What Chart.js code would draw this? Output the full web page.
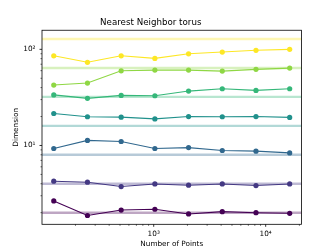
<!DOCTYPE html>
<html>
<head>
<meta charset="utf-8">
<script src="https://cdn.jsdelivr.net/npm/chart.js@4.4.1/dist/chart.umd.min.js"></script>
<style>
  html, body { margin: 0; padding: 0; background: #fff; }
  #grafico { display: block; }
</style>
</head>
<body>
<canvas id="grafico" width="335" height="252"></canvas>
<script>
// Dados (eixos log-log)
const pontos = [128, 256, 512, 1024, 2048, 4096, 8192, 16384];
const dimensoes = [2, 4, 8, 16, 32, 64, 128];
const cores = ['#440154', '#443983', '#31688e', '#21918c', '#35b779', '#8fd744', '#fde725'];

const dim2   = [2.65, 1.87, 2.13, 2.17, 1.94, 2.05, 2.00, 1.97];
const dim4   = [4.25, 4.15, 3.74, 3.98, 3.86, 3.98, 3.83, 3.98];
const dim8   = [9.3, 11.3, 11.0, 9.3, 9.5, 8.87, 8.73, 8.37];
const dim16  = [21.5, 19.9, 19.7, 18.9, 20.0, 19.9, 20.0, 19.6];
const dim32  = [33.6, 30.9, 33.2, 32.9, 36.8, 38.9, 37.4, 38.9];
const dim64  = [42.5, 44.6, 59.8, 60.8, 60.8, 59.4, 61.9, 63.8];
const dim128 = [85.7, 73.3, 85.7, 80.5, 89.9, 93.7, 97.7, 100];
const estimativas = [dim2, dim4, dim8, dim16, dim32, dim64, dim128];

// Marcas dos eixos
const xMaiores = [1000, 10000];
const xMenores = [200, 300, 400, 500, 600, 700, 800, 900, 2000, 3000, 4000, 5000, 6000, 7000, 8000, 9000, 20000];
const yMaiores = [10, 100];
const yMenores = [2, 3, 4, 5, 6, 7, 8, 9, 20, 30, 40, 50, 60, 70, 80, 90];

const xMin = 100.5, xMax = 20890;
const yMin = 1.514, yMax = 158;

const sobrescrito = { '0': '⁰', '1': '¹', '2': '²', '3': '³', '4': '⁴', '5': '⁵' };
function rotuloPotencia(v) {
  const e = Math.round(Math.log10(v));
  return '10' + String(e).split('').map(d => sobrescrito[d]).join('');
}

function comAlfa(hex, a) {
  const r = parseInt(hex.slice(1, 3), 16), g = parseInt(hex.slice(3, 5), 16), b = parseInt(hex.slice(5, 7), 16);
  return `rgba(${r},${g},${b},${a})`;
}

const datasets = [];
dimensoes.forEach((d, i) => {
  // linha horizontal da dimensão real
  datasets.push({
    data: [{ x: xMin, y: d }, { x: xMax, y: d }],
    borderColor: comAlfa(cores[i], 0.35),
    borderWidth: 2.4,
    pointRadius: 0,
    order: 2
  });
  datasets.push({
    data: pontos.map((x, j) => ({ x: x, y: estimativas[i][j] })),
    borderColor: cores[i],
    backgroundColor: cores[i],
    borderWidth: 1.1,
    pointRadius: 2.6,
    pointBorderWidth: 0,
    order: 1
  });
});

// Moldura e marcas (maiores/menores) como no matplotlib
const moldura = {
  id: 'moldura',
  afterDraw(chart) {
    const ctx = chart.ctx;
    const a = chart.chartArea;
    const sx = chart.scales.x, sy = chart.scales.y;
    ctx.save();
    ctx.strokeStyle = '#000';
    sx.ticks.forEach(t => {
      const maior = xMaiores.includes(t.value);
      const px = sx.getPixelForValue(t.value);
      ctx.lineWidth = maior ? 0.8 : 0.6;
      ctx.beginPath();
      ctx.moveTo(px, a.bottom);
      ctx.lineTo(px, a.bottom + (maior ? 2.5 : 1.5));
      ctx.stroke();
    });
    sy.ticks.forEach(t => {
      const maior = yMaiores.includes(t.value);
      const py = sy.getPixelForValue(t.value);
      ctx.lineWidth = maior ? 0.8 : 0.6;
      ctx.beginPath();
      ctx.moveTo(a.left, py);
      ctx.lineTo(a.left - (maior ? 2.5 : 1.5), py);
      ctx.stroke();
    });
    ctx.lineWidth = 0.8;
    ctx.strokeRect(a.left, a.top, a.right - a.left, a.bottom - a.top);
    ctx.restore();
  }
};

const fonte = "'DejaVu Sans', sans-serif";

new Chart(document.getElementById('grafico'), {
  type: 'line',
  data: { datasets: datasets },
  options: {
    responsive: false,
    animation: false,
    devicePixelRatio: 1,
    events: [],
    layout: { padding: { left: 0, right: 33.5, top: 0, bottom: 0 } },
    plugins: {
      legend: { display: false },
      tooltip: { enabled: false },
      title: {
        display: true,
        text: 'Nearest Neighbor torus',
        color: '#000',
        font: { family: fonte, size: 8.7, weight: 'normal' },
        padding: { top: 17.5, bottom: 2.3 }
      }
    },
    scales: {
      x: {
        type: 'logarithmic',
        min: xMin,
        max: xMax,
        afterBuildTicks: (s) => {
          s.ticks = xMenores.concat(xMaiores).sort((p, q) => p - q).map(v => ({ value: v }));
        },
        afterFit: (s) => { s.height = 27.7; },
        border: { display: false },
        grid: { display: true, drawOnChartArea: false, drawTicks: true, tickLength: 2.5, tickColor: 'rgba(0,0,0,0)' },
        ticks: {
          autoSkip: false,
          maxRotation: 0,
          padding: 2.5,
          color: '#000',
          font: { family: fonte, size: 7.3 },
          callback: (v) => xMaiores.includes(v) ? rotuloPotencia(v) : ''
        },
        title: {
          display: true,
          text: 'Number of Points',
          color: '#000',
          font: { family: fonte, size: 7.3 },
          padding: { top: 0, bottom: 3.3 }
        }
      },
      y: {
        type: 'logarithmic',
        min: yMin,
        max: yMax,
        afterBuildTicks: (s) => {
          s.ticks = yMenores.concat(yMaiores).sort((p, q) => p - q).map(v => ({ value: v }));
        },
        afterFit: (s) => { s.width = 42; },
        border: { display: false },
        grid: { display: true, drawOnChartArea: false, drawTicks: true, tickLength: 2.5, tickColor: 'rgba(0,0,0,0)' },
        ticks: {
          autoSkip: false,
          padding: 4,
          color: '#000',
          font: { family: fonte, size: 7.3 },
          callback: (v) => yMaiores.includes(v) ? rotuloPotencia(v) : ''
        },
        title: {
          display: true,
          text: 'Dimension',
          color: '#000',
          font: { family: fonte, size: 7.3 },
          padding: { top: 11.7, bottom: 0 }
        }
      }
    }
  },
  plugins: [moldura]
});
</script>
</body>
</html>
